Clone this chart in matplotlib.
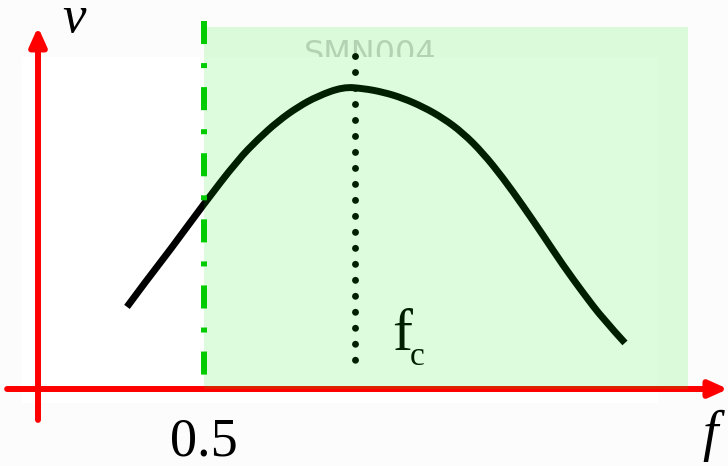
import matplotlib
matplotlib.use("Agg")
import matplotlib.pyplot as plt
from matplotlib.patches import Rectangle, PathPatch
from matplotlib.path import Path

plt.rcParams["lines.scale_dashes"] = False

# Response curve v(f), normalised so the peak is 1
f_curve = [0.268, 0.328, 0.398, 0.497, 0.602, 0.663, 0.723, 0.783, 0.843, 0.919,
           0.979, 1.039, 1.099, 1.160, 1.220, 1.280, 1.340, 1.401, 1.461, 1.521,
           1.581, 1.642, 1.702, 1.768]
v_curve = [0.271, 0.360, 0.459, 0.607, 0.756, 0.825, 0.884, 0.931, 0.967, 0.997,
           0.992, 0.980, 0.960, 0.931, 0.894, 0.845, 0.779, 0.696, 0.604, 0.508,
           0.409, 0.317, 0.231, 0.152]

f_low = 0.5          # lower cut-off marker
f_c = 0.955          # centre frequency
f_band_end = 1.958   # right edge of the shaded band
low_label = "0.5"

# Axis layout (data units)
x_min, x_max = -38 / 332, 690 / 332
y_min, y_max = -77 / 303, 389 / 303

fig = plt.figure(figsize=(7.28, 4.66), dpi=100)
fig.patch.set_facecolor("#fcfcfc")
ax = fig.add_axes([0, 0, 1, 1])
ax.set_xlim(x_min, x_max)
ax.set_ylim(y_min, y_max)
ax.axis("off")

serif = "Liberation Serif"

# faint slide watermark behind the white drawing area
ax.text(1.0, 1.075, "SMN004", fontsize=23, family="DejaVu Sans", color="#cfcfcf",
        ha="center", va="baseline", zorder=0)
ax.add_patch(Rectangle((-16 / 332, -14 / 303), 636 / 332, 346 / 303,
                       facecolor="white", edgecolor="none", zorder=0.5))

# red axes with arrow heads
arrow = dict(arrowstyle="-|>,head_length=1.0,head_width=0.45", color="#ff0000",
             lw=4.3, mutation_scale=11, shrinkA=0, shrinkB=0)
ax.annotate("", xy=(0.0, 1.195), xytext=(0.0, -0.102), arrowprops=arrow, zorder=2)
ax.annotate("", xy=(x_max, 0.0), xytext=(-0.093, 0.0), arrowprops=arrow, zorder=2)

# response curve, drawn as a smooth quadratic path through the read points
pts = list(zip(f_curve, v_curve))
verts = [pts[0]]
codes = [Path.MOVETO]
for i in range(1, len(pts) - 1):
    if i == len(pts) - 2:
        end = pts[-1]
    else:
        end = ((pts[i][0] + pts[i + 1][0]) / 2, (pts[i][1] + pts[i + 1][1]) / 2)
    verts += [pts[i], end]
    codes += [Path.CURVE3, Path.CURVE3]
ax.add_patch(PathPatch(Path(verts, codes), facecolor="none", edgecolor="black",
                       lw=5.0, capstyle="butt", joinstyle="round", zorder=3))

# centre frequency marker (dotted)
ax.plot([f_c, f_c], [1.099, 0.092], color="black", lw=5.0,
        linestyle=(0, (0.01, 11.5)), dash_capstyle="round", zorder=3)
ax.text(1.066, 0.129, "f", fontsize=43, family=serif, color="black",
        ha="left", va="baseline", zorder=3)
ax.text(1.120, 0.079, "c", fontsize=24, family=serif, color="black",
        ha="left", va="baseline", zorder=3)

# translucent pass band
ax.add_patch(Rectangle((f_low, 0.0), f_band_end - f_low, 1.195,
                       facecolor=(0.0, 0.93, 0.0), alpha=0.135, edgecolor="none",
                       zorder=4))

# lower limit (dash-dot)
ax.plot([f_low, f_low], [1.215, 0.0], color="#00cc00", lw=4.3,
        linestyle=(0, (16.6, 13.7, 3.6, 13.7)), dash_capstyle="butt", zorder=5)

# axis labels
ax.text(0.108, 1.178, "v", fontsize=38, family=serif, style="italic",
        ha="center", va="baseline", color="black", zorder=6)
ax.text(2.024, -0.201, "f", fontsize=40, family=serif, style="italic",
        ha="center", va="baseline", color="black", zorder=6)
ax.text(f_low, -0.218, low_label, fontsize=39, family=serif,
        ha="center", va="baseline", color="black", zorder=6)

fig.savefig("out.png", dpi=100)
